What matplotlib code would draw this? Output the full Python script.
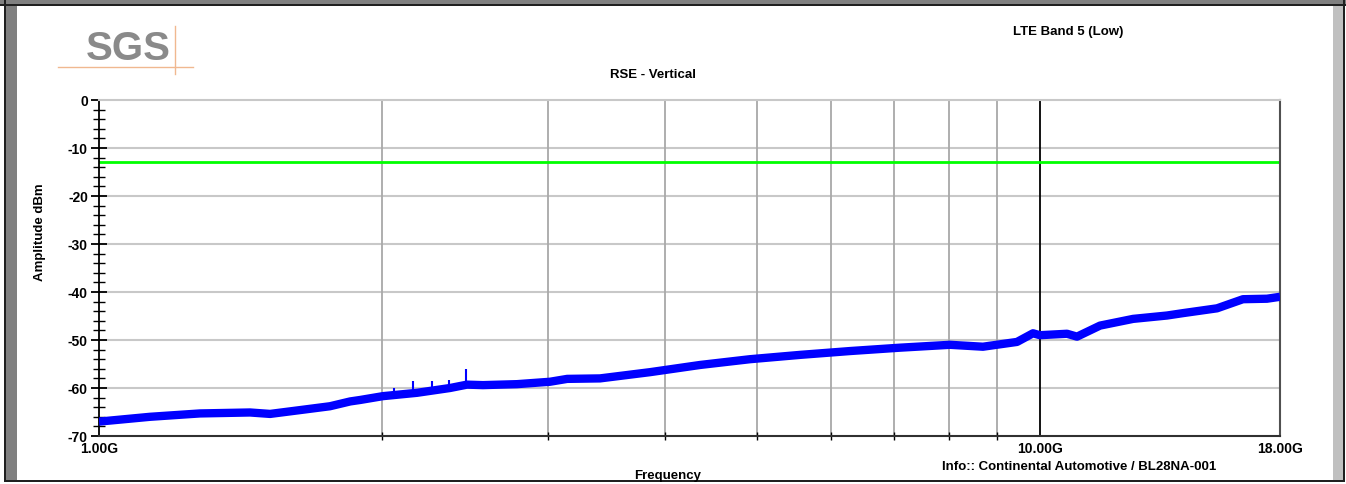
import numpy as np
import matplotlib.pyplot as plt
from matplotlib.patches import Rectangle
from matplotlib.lines import Line2D
from matplotlib.ticker import FixedLocator, NullFormatter

plt.rcParams['font.family'] = ['Liberation Sans', 'DejaVu Sans']
plt.rcParams['axes.unicode_minus'] = False

# trace read along the sweep (GHz, dBm)
freq_ghz = [1.0, 1.133, 1.280, 1.447, 1.520, 1.636, 1.760, 1.849, 1.894, 2.003,
            2.178, 2.361, 2.461, 2.559, 2.781, 3.015, 3.145, 3.408, 3.852, 4.354,
            4.920, 5.561, 6.285, 7.102, 8.027, 8.700, 9.457, 9.834, 10.0, 10.688,
            10.953, 11.587, 12.564, 13.651, 14.197, 15.429, 16.441, 17.435, 18.0]
level_dbm = [-67.0, -66.0, -65.3, -65.1, -65.4, -64.6, -63.8, -62.8, -62.5, -61.7,
             -61.0, -60.0, -59.3, -59.4, -59.2, -58.7, -58.1, -58.0, -56.7, -55.2,
             -54.0, -53.1, -52.3, -51.6, -51.0, -51.4, -50.4, -48.6, -49.0, -48.7,
             -49.3, -47.0, -45.6, -44.9, -44.4, -43.4, -41.5, -41.4, -41.0]

# narrow spurs sticking out of the noise floor
spur_ghz = [2.058, 2.157, 2.259, 2.355, 2.455]
spur_top = [-60.0, -58.5, -58.5, -58.3, -56.0]

limit_dbm = -13.0

W, H = 1346, 484
fig = plt.figure(figsize=(W / 100, H / 100), dpi=100)
ax = fig.add_axes([99 / W, 1 - 436 / H, (1280 - 99) / W, (436 - 100) / H])

ax.set_xscale('log')
ax.set_xlim(1, 18)
ax.set_ylim(-70, 0)

# grid: light horizontal, grey verticals at 2..9 GHz, black at 10 GHz
for y in range(-60, 0, 10):
    ax.axhline(y, color='#c8c8c8', lw=1.5, zorder=0)
for f in range(2, 10):
    ax.axvline(f, color='#a8a8a8', lw=1.3, zorder=0)
ax.axvline(10, color='black', lw=1.3, zorder=0)

ax.axhline(limit_dbm, color='#00ff00', lw=2, zorder=2)

ax.plot(freq_ghz, level_dbm, color='#0000ff', lw=6, solid_joinstyle='round',
        solid_capstyle='butt', zorder=3)
base = np.interp(np.log(spur_ghz), np.log(freq_ghz), level_dbm)
ax.vlines(spur_ghz, base, spur_top, color='#0000ff', lw=1.5, zorder=3)

ax.xaxis.set_major_locator(FixedLocator([1, 10, 18]))
ax.set_xticklabels(['1.00G', '10.00G', '18.00G'])
ax.xaxis.set_minor_locator(FixedLocator([2, 3, 4, 5, 6, 7, 8, 9]))
ax.xaxis.set_minor_formatter(NullFormatter())
ax.tick_params(axis='x', which='major', length=0, pad=4, labelsize=10)
ax.tick_params(axis='x', which='minor', direction='inout', length=6, width=1)

ax.set_yticks(range(-70, 1, 10))
ax.yaxis.set_minor_locator(FixedLocator(range(-70, 1, 2)))
ax.tick_params(axis='y', which='major', direction='inout', length=12, width=1.3,
               pad=2, labelsize=10)
ax.tick_params(axis='y', which='minor', direction='inout', length=8, width=1)
for lab in ax.get_xticklabels() + ax.get_yticklabels():
    lab.set_fontweight('bold')

ax.spines['left'].set_color('black')
ax.spines['left'].set_linewidth(1.3)
ax.spines['bottom'].set_color('#303030')
ax.spines['bottom'].set_linewidth(1.5)
ax.spines['top'].set_color('#c8c8c8')
ax.spines['top'].set_linewidth(1.5)
ax.spines['right'].set_color('#505050')
ax.spines['right'].set_linewidth(1.5)

# texts
fig.text(653 / W, 1 - 75 / H, 'RSE - Vertical', ha='center', va='center',
         fontsize=9.5, fontweight='bold')
fig.text(1068 / W, 1 - 32 / H, 'LTE Band 5 (Low)', ha='center', va='center',
         fontsize=9.5, fontweight='bold')
fig.text(40 / W, 1 - 232 / H, 'Amplitude dBm', ha='center', va='center',
         rotation=90, fontsize=9.5, fontweight='bold')
fig.text(668 / W, 1 - 476 / H, 'Frequency', ha='center', va='center',
         fontsize=9.5, fontweight='bold')
fig.text(1079 / W, 1 - 467 / H, 'Info:: Continental Automotive / BL28NA-001',
         ha='center', va='center', fontsize=9.5, fontweight='bold')

# SGS logo
fig.text(128 / W, 1 - 49 / H, 'SGS', ha='center', va='center', fontsize=29,
         fontweight='bold', color='#8a8a8a')
fig.add_artist(Line2D([58 / W, 193 / W], [1 - 67 / H, 1 - 67 / H],
                      color='#f0b890', lw=1, transform=fig.transFigure))
fig.add_artist(Line2D([175 / W, 175 / W], [1 - 26 / H, 1 - 74 / H],
                      color='#f0b890', lw=1, transform=fig.transFigure))

# window frame
def px_rect(x0, y0, x1, y1, color):
    fig.add_artist(Rectangle((x0 / W, 1 - y1 / H), (x1 - x0) / W, (y1 - y0) / H,
                             transform=fig.transFigure, color=color, lw=0))

px_rect(0, 0, W, 5, '#808080')
px_rect(0, 4, W, 6, '#202020')
px_rect(4, 0, 6, 482, '#202020')
px_rect(6, 6, 17, 481, '#808080')
px_rect(1333, 6, 1343, 481, '#c0c0c0')
px_rect(1343, 0, 1345, 482, '#202020')
px_rect(4, 480, 1345, 482, '#202020')

fig.savefig('out.png', dpi=100)
